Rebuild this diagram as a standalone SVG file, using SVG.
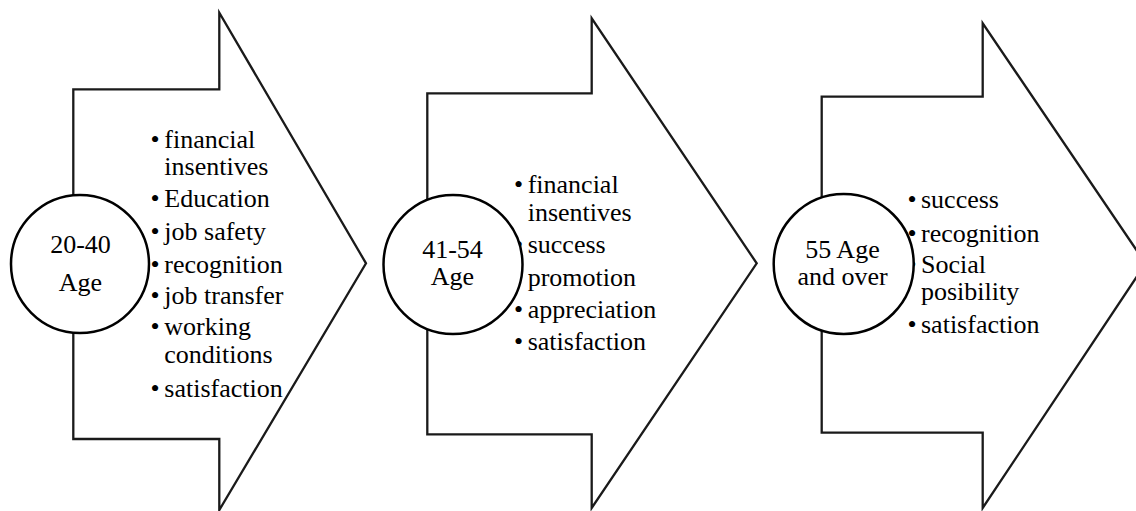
<svg xmlns="http://www.w3.org/2000/svg" width="1136" height="511" viewBox="0 0 1136 511">
<style>
.arrow{fill:#fff;stroke:#1a1a1a;stroke-width:2.3;stroke-linejoin:miter}
.circ{fill:#fff;stroke:#000;stroke-width:2.5}
.c{text-anchor:middle}
.t{font-family:"Liberation Serif","Tinos","Times New Roman",Times,"Noto Serif","DejaVu Serif",serif;font-size:26px;fill:#000}
</style>
<rect width="1136" height="511" fill="#fff"/>
<g id="connectors"></g>
<g class="t">
<g id="arrow1">
<polygon class="arrow" points="73.3,89.3 219.3,89.3 219.3,12.7 366,263.3 219.3,510 219.3,439 73.3,439"/>
<text x="150.5" y="147.7">•</text><text x="164.3" y="147.7">financial</text>
<text x="164.3" y="175">insentives</text>
<text x="150.5" y="207">•</text><text x="164.3" y="207">Education</text>
<text x="150.5" y="240">•</text><text x="164.3" y="240">job safety</text>
<text x="150.5" y="272.7">•</text><text x="164.3" y="272.7">recognition</text>
<text x="150.5" y="304">•</text><text x="164.3" y="304">job transfer</text>
<text x="150.5" y="335">•</text><text x="164.3" y="335">working</text>
<text x="164.3" y="363">conditions</text>
<text x="150.5" y="396.7">•</text><text x="164.3" y="396.7">satisfaction</text>
</g>
<g id="circle1">
<circle class="circ" cx="80" cy="264" r="69"/>
<text class="c" x="80.5" y="253.3">20-40</text>
<text class="c" x="80.5" y="291">Age</text>
</g>
<g id="arrow2">
<polygon class="arrow" points="427.3,93.3 591.7,93.3 591.7,18.3 756.7,263.3 591.7,508 591.7,434.3 427.3,434.3"/>
<text x="514" y="193.3">•</text><text x="527.7" y="193.3">financial</text>
<text x="527.7" y="220.7">insentives</text>
<text x="514" y="253.3">•</text><text x="527.7" y="253.3">success</text>
<text x="514" y="285.7">•</text><text x="527.7" y="285.7">promotion</text>
<text x="514" y="317.7">•</text><text x="527.7" y="317.7">appreciation</text>
<text x="514" y="350">•</text><text x="527.7" y="350">satisfaction</text>
</g>
<g id="circle2">
<circle class="circ" cx="453" cy="264.5" r="69.5"/>
<text class="c" x="452.5" y="258">41-54</text>
<text class="c" x="452.5" y="285">Age</text>
</g>
<g id="arrow3">
<polygon class="arrow" points="821.7,96.7 982.7,96.7 982.7,23.3 1145.6,263.5 982.7,508 982.7,432.7 821.7,432.7"/>
<text x="907.5" y="208.3">•</text><text x="921" y="208.3">success</text>
<text x="907.5" y="241.7">•</text><text x="921" y="241.7">recognition</text>
<text x="907.5" y="273.3">•</text><text x="921" y="273.3">Social</text>
<text x="921" y="300">posibility</text>
<text x="907.5" y="333.3">•</text><text x="921" y="333.3">satisfaction</text>
</g>
<g id="circle3">
<circle class="circ" cx="843.7" cy="264" r="70"/>
<text class="c" x="842.5" y="258.3">55 Age</text>
<text class="c" x="842.5" y="285">and over</text>
</g>
</g>
</svg>
